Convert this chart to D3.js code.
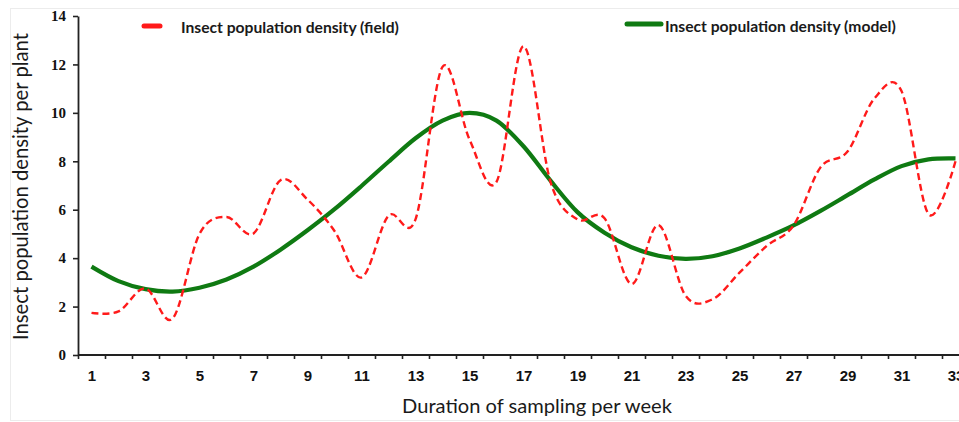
<!DOCTYPE html>
<html>
<head>
<meta charset="utf-8">
<script src="https://cdn.jsdelivr.net/npm/d3@7"></script>
<style>
  html, body { margin: 0; padding: 0; background: #ffffff; }
  svg { display: block; }
</style>
</head>
<body>
<svg id="chart" width="959" height="422"></svg>
<script>
// ---- data ----
const weeks = d3.range(1, 34);
const fieldDensity = [1.74, 1.8, 2.75, 1.5, 5.0, 5.7, 5.02, 7.22, 6.42, 5.12, 3.2, 5.75, 5.6, 11.9, 8.9, 7.15, 12.75, 7.15, 5.6, 5.65, 2.93, 5.37, 2.45, 2.3, 3.4, 4.5, 5.35, 7.75, 8.4, 10.6, 10.9, 5.82, 8.0];
const modelDensity = [3.65, 3.05, 2.72, 2.62, 2.78, 3.12, 3.65, 4.35, 5.15, 6.02, 6.98, 7.98, 8.95, 9.68, 10.0, 9.68, 8.62, 7.2, 5.9, 5.05, 4.45, 4.1, 3.97, 4.08, 4.4, 4.85, 5.35, 5.95, 6.6, 7.25, 7.8, 8.08, 8.12];
const yTicks = [0, 2, 4, 6, 8, 10, 12, 14];
const xLabelWeeks = weeks.filter(w => w % 2 === 1);
const seriesNames = ["Insect population density (field)", "Insect population density (model)"];
const yTitle = "Insect population density per plant";
const xTitle = "Duration of sampling per week";

// ---- layout ----
const svg = d3.select("#chart");
const W = 959, H = 422;
const mLeft = 78, mTop = 16, mBottom = 355;
const step = 27;

svg.append("rect").attr("width", W).attr("height", H).attr("fill", "#fff");
svg.append("rect").attr("x", 10.5).attr("y", 8.5).attr("width", W).attr("height", 412)
  .attr("fill", "none").attr("stroke", "#ececec");

const x = d3.scaleLinear().domain([0.5, 33.5]).range([mLeft, mLeft + 33 * step]);
const y = d3.scaleLinear().domain([0, 14]).range([mBottom, mTop]);

// ---- axes ----
const axisColor = "#222";
const xAxisTicks = svg.append("g").attr("transform", `translate(0,${mBottom})`)
  .call(d3.axisBottom(x).tickValues(d3.range(0.5, 34, 1)).tickFormat("").tickSizeInner(4).tickSizeOuter(0));
xAxisTicks.select(".domain").remove();
xAxisTicks.selectAll("line").attr("stroke", axisColor).attr("stroke-width", 1.6);
svg.append("line").attr("x1", mLeft).attr("x2", W).attr("y1", mBottom).attr("y2", mBottom)
  .attr("stroke", axisColor).attr("stroke-width", 1.8);

const xLabels = svg.append("g").attr("transform", `translate(0,${mBottom})`)
  .call(d3.axisBottom(x).tickValues(xLabelWeeks).tickSize(0).tickPadding(0).tickFormat(d3.format("d")));
xLabels.select(".domain").remove();
xLabels.selectAll("text")
  .attr("y", 26).attr("dy", 0)
  .attr("font-family", "'Liberation Sans', Arial, sans-serif")
  .attr("font-weight", "bold").attr("font-size", 15).attr("fill", "#111");

const yAxis = svg.append("g").attr("transform", `translate(${mLeft},0)`)
  .call(d3.axisLeft(y).tickValues(yTicks).tickSizeInner(5).tickSizeOuter(0).tickPadding(7).tickFormat(d3.format("d")));
yAxis.select(".domain").attr("stroke", axisColor).attr("stroke-width", 1.8);
yAxis.selectAll("line").attr("stroke", axisColor).attr("stroke-width", 1.6);
yAxis.selectAll("text")
  .attr("font-family", "'Liberation Serif', 'Times New Roman', serif")
  .attr("font-weight", "bold").attr("font-size", 15).attr("fill", "#111");

// ---- fit helper ----
function fit(sel, width) {
  const n = sel.node();
  const fs = parseFloat(sel.attr("font-size"));
  const len = n.getComputedTextLength();
  if (len > 0) sel.attr("font-size", (fs * width / len).toFixed(2));
  return sel;
}
const sans = "Lato, 'Open Sans', 'Noto Sans', sans-serif";

// ---- titles ----
const yt = svg.append("text")
  .attr("transform", `translate(28,${(33 + 340) / 2}) rotate(-90)`)
  .attr("text-anchor", "middle")
  .attr("font-family", sans).attr("font-size", 20).attr("fill", "#1a1a1a")
  .text(yTitle);
fit(yt, 307);

const xt = svg.append("text")
  .attr("x", (402 + 672) / 2).attr("y", 413)
  .attr("text-anchor", "middle")
  .attr("font-family", sans).attr("font-size", 20).attr("fill", "#1a1a1a")
  .text(xTitle);
fit(xt, 270);

// ---- lines ----
const line = d3.line()
  .x(d => x(d.w))
  .y(d => y(d.v))
  .curve(d3.curveCardinal.tension(0));

const modelData = weeks.map((w, i) => ({ w, v: modelDensity[i] }));
const fieldData = weeks.map((w, i) => ({ w, v: fieldDensity[i] }));

const green = "#0f7a12";
const red = "#ff1a1a";

svg.append("path").datum(modelData)
  .attr("d", line).attr("fill", "none")
  .attr("stroke", green).attr("stroke-width", 4.2);

svg.append("path").datum(fieldData)
  .attr("d", line).attr("fill", "none")
  .attr("stroke", red).attr("stroke-width", 2.4)
  .attr("stroke-dasharray", "7,4");

// ---- legend ----
const leg = svg.append("g");
leg.append("line").attr("x1", 144).attr("x2", 160).attr("y1", 26).attr("y2", 26)
  .attr("stroke", red).attr("stroke-width", 5).attr("stroke-linecap", "round");
const l1 = leg.append("text").attr("x", 181).attr("y", 33)
  .attr("font-family", sans).attr("font-weight", "bold").attr("font-size", 15).attr("fill", "#1a1a1a")
  .text(seriesNames[0]);
fit(l1, 218);

leg.append("line").attr("x1", 627).attr("x2", 661).attr("y1", 24).attr("y2", 24)
  .attr("stroke", green).attr("stroke-width", 5).attr("stroke-linecap", "round");
const l2 = leg.append("text").attr("x", 665).attr("y", 32)
  .attr("font-family", sans).attr("font-weight", "bold").attr("font-size", 15).attr("fill", "#1a1a1a")
  .text(seriesNames[1]);
fit(l2, 231);
</script>
</body>
</html>
